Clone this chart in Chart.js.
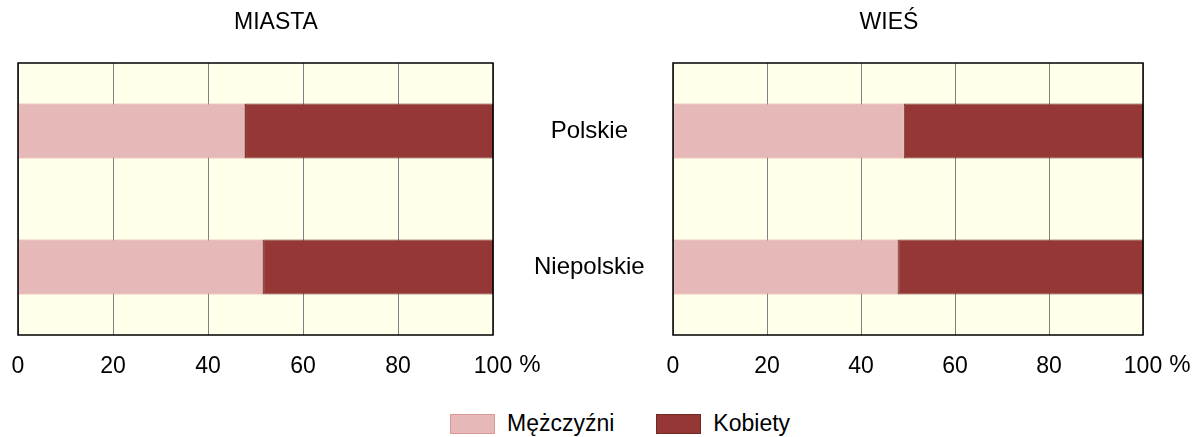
<!DOCTYPE html>
<html>
<head>
<meta charset="utf-8">
<script src="https://cdn.jsdelivr.net/npm/chart.js@4/dist/chart.umd.min.js"></script>
<style>
  html, body { margin: 0; padding: 0; background: #fff; }
  #wrap { position: relative; width: 1199px; height: 437px; overflow: hidden; font-family: 'Liberation Sans', Arial, sans-serif; }
  #cMiasta { position: absolute; left: 0; top: 0; }
  #cWies { position: absolute; left: 530px; top: 0; }
  #legend { position: absolute; left: 450px; top: 410px; display: flex; font-size: 23px; color: #000; }
  .item { display: flex; align-items: center; margin-right: 42px; }
  .box { width: 43px; height: 18px; margin-right: 12px; border: 1px solid; }
</style>
</head>
<body>
<div id="wrap">
  <canvas id="cMiasta" width="542" height="400"></canvas>
  <canvas id="cWies" width="669" height="400"></canvas>
  <div id="legend"></div>
</div>
<script>
// ── Data ──────────────────────────────────────────────────────────────────────
const categories = ['Polskie', 'Niepolskie'];
const seriesNames = ['Mężczyźni', 'Kobiety'];
const miastaMen = [47.8, 51.6];
const miastaWomen = [52.2, 48.4];
const wiesMen = [49.1, 47.9];
const wiesWomen = [50.9, 52.1];
const xTicks = [0, 20, 40, 60, 80, 100];

const FONT = "'Liberation Sans', Arial, sans-serif";
const COLORS = [
  { fill: '#E6B8B7', border: '#D99795' },
  { fill: '#953735', border: '#6E2826' },
];
const PLOT_BG = '#FFFFEA';

// background + frame round the plot area
const plotFrame = {
  id: 'plotFrame',
  beforeDraw(chart) {
    const { ctx, chartArea: a } = chart;
    ctx.save();
    ctx.fillStyle = PLOT_BG;
    ctx.fillRect(a.left, a.top, a.width, a.height);
    ctx.restore();
  },
  afterDatasetsDraw(chart) {
    const { ctx, chartArea: a } = chart;
    ctx.save();
    ctx.strokeStyle = '#000';
    ctx.lineWidth = 1.5;
    ctx.strokeRect(a.left, a.top, a.width, a.height);
    ctx.restore();
  },
};

// "%" unit next to the last tick
const percentSign = {
  id: 'percentSign',
  afterDraw(chart) {
    const { ctx, scales } = chart;
    const x = scales.x.getPixelForValue(xTicks[xTicks.length - 1]) + 37;
    const y = chart.chartArea.bottom + 30;
    ctx.save();
    ctx.font = '24px ' + FONT;
    ctx.fillStyle = '#000';
    ctx.textAlign = 'center';
    ctx.textBaseline = 'middle';
    ctx.fillText('%', x, y);
    ctx.restore();
  },
};

function buildDatasets(men, women) {
  return [men, women].map((data, i) => ({
    label: seriesNames[i],
    data,
    backgroundColor: COLORS[i].fill,
    borderColor: COLORS[i].border,
    borderWidth: 1,
    borderSkipped: false,
    categoryPercentage: 1,
    barPercentage: 0.405,
  }));
}

// leftW: width of the category axis (0 = hidden), labelShift: mirrored label offset,
// rightW: empty spacer on the right so the title lands where it should
function makeChart(canvasId, title, men, women, leftW, labelShift, rightW, padding) {
  return new Chart(document.getElementById(canvasId), {
    type: 'bar',
    data: { labels: categories, datasets: buildDatasets(men, women) },
    options: {
      indexAxis: 'y',
      responsive: false,
      animation: false,
      layout: { padding },
      plugins: {
        legend: { display: false },
        tooltip: { enabled: false },
        title: {
          display: true,
          text: title,
          color: '#000',
          font: { family: FONT, size: 23, weight: 'normal' },
          padding: { top: 9, bottom: 26.4 },
        },
      },
      scales: {
        x: {
          stacked: true,
          min: 0,
          max: 100,
          afterBuildTicks(scale) {
            scale.ticks = xTicks.map((v) => ({ value: v }));
          },
          afterFit(scale) { scale.height = 65; },
          grid: { color: '#808080', lineWidth: 1, drawTicks: true, tickLength: 13, tickColor: 'rgba(0,0,0,0)' },
          border: { display: false },
          ticks: {
            color: '#000',
            padding: 5,
            maxRotation: 0,
            font: { family: FONT, size: 23 },
          },
        },
        y: {
          stacked: true,
          display: leftW > 0,
          afterFit(scale) { if (leftW > 0) scale.width = leftW; },
          grid: { display: false, drawTicks: false },
          border: { display: false },
          ticks: {
            color: '#000',
            mirror: true,
            padding: labelShift,
            crossAlign: 'center',
            font: { family: FONT, size: 24 },
          },
        },
        spacer: {
          axis: 'y',
          position: 'right',
          display: rightW > 0,
          afterFit(scale) { scale.width = rightW; },
          grid: { display: false, drawTicks: false },
          border: { display: false },
          ticks: { display: false },
        },
      },
    },
    plugins: [plotFrame, percentSign],
  });
}

makeChart('cMiasta', 'MIASTA', miastaMen, miastaWomen, 0, 0, 41, { left: 18, right: 8, top: 0, bottom: 0 });
makeChart('cWies', 'WIEŚ', wiesMen, wiesWomen, 94, -139, 56, { left: 49, right: 0, top: 0, bottom: 0 });

// shared legend under both panels
const legend = document.getElementById('legend');
seriesNames.forEach((name, i) => {
  const item = document.createElement('div');
  item.className = 'item';
  const box = document.createElement('span');
  box.className = 'box';
  box.style.background = COLORS[i].fill;
  box.style.borderColor = COLORS[i].border;
  const txt = document.createElement('span');
  txt.textContent = name;
  item.appendChild(box);
  item.appendChild(txt);
  legend.appendChild(item);
});
</script>
</body>
</html>
